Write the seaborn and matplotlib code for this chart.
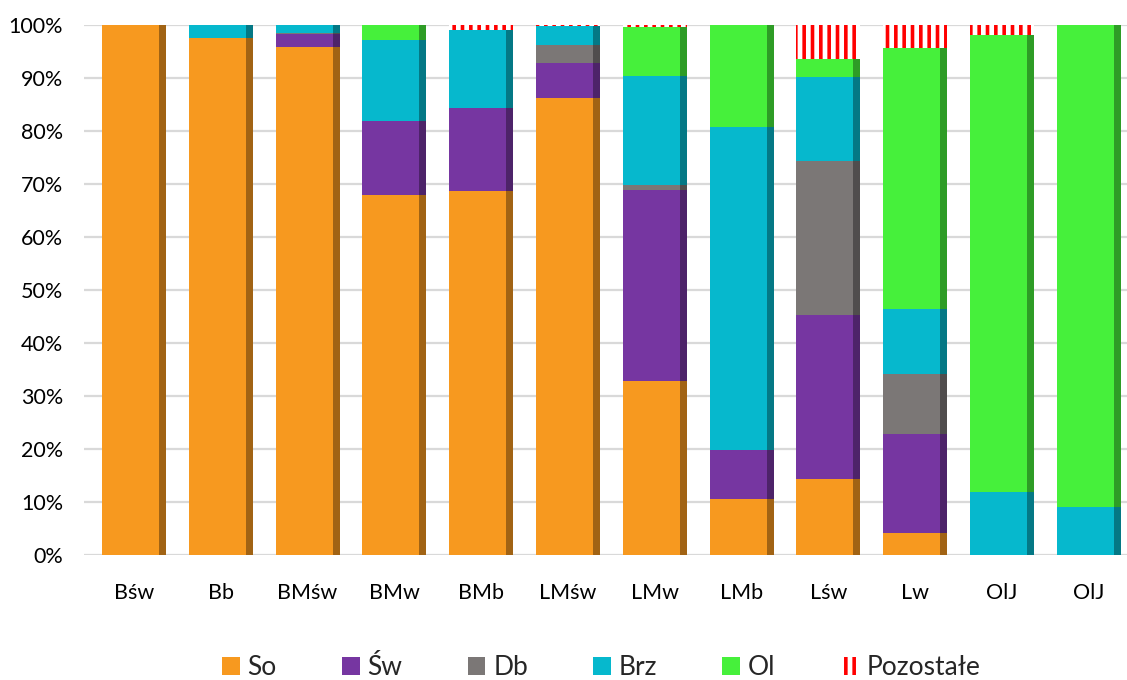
"""Stacked 100% bar chart of species share per stand type."""

import matplotlib
matplotlib.use("Agg")
import matplotlib.pyplot as plt
import matplotlib.colors as mcolors
from matplotlib.patches import Patch, Rectangle
from matplotlib.ticker import PercentFormatter
import seaborn as sns
import numpy as np

# Data (percent share)
categories = ["Bśw", "Bb", "BMśw", "BMw", "BMb", "LMśw", "LMw", "LMb", "Lśw", "Lw", "OlJ", "OlJ"]
so = [100, 97.5, 95.8, 67.9, 68.7, 86.2, 32.9, 10.6, 14.3, 4.2, 0, 0]
sw = [0, 0, 2.5, 14.0, 15.7, 6.6, 36.0, 9.2, 30.9, 18.7, 0, 0]
db = [0, 0, 0.2, 0, 0, 3.4, 0.9, 0, 29.1, 11.3, 0, 0]
brz = [0, 2.5, 1.5, 15.3, 14.7, 3.6, 20.6, 60.9, 15.8, 12.3, 11.9, 9.1]
ol = [0, 0, 0, 2.8, 0, 0, 9.3, 19.3, 3.4, 49.2, 86.2, 90.9]
poz = [0, 0, 0, 0, 0.9, 0.2, 0.3, 0, 6.4, 4.3, 1.9, 0]

series_names = ["So", "Św", "Db", "Brz", "Ol", "Pozostałe"]
series_values = [so, sw, db, brz, ol, poz]
series_colors = ["#F7991F", "#7636A1", "#7B7776", "#06B8CD", "#46F03B", "#FF0000"]

sns.set_style("white")
plt.rcParams["font.family"] = ["Lato", "DejaVu Sans"]
plt.rcParams["hatch.color"] = "#FF0000"
plt.rcParams["hatch.linewidth"] = 2.6

fig = plt.figure(figsize=(11.27, 6.8), dpi=100)
ax = fig.add_axes([84 / 1127, 125 / 680, 1043 / 1127, 530 / 680])

values = np.array(series_values, dtype=float)
values = values / values.sum(axis=0) * 100
positions = list(range(len(categories)))
bottom = np.zeros(len(categories))
bar_width = 0.737

for name, vals, color in zip(series_names, values, series_colors):
    n_before = len(ax.patches)
    if name == "Pozostałe":
        sns.barplot(x=positions, y=vals, bottom=bottom, color="white",
                    edgecolor=color, linewidth=0, hatch="||", saturation=1,
                    width=bar_width, errorbar=None, ax=ax)
    else:
        sns.barplot(x=positions, y=vals, bottom=bottom, color=color,
                    linewidth=0, saturation=1, width=bar_width, errorbar=None, ax=ax)
        # darker strip on the right side of each segment
        dark = tuple(c * 0.65 for c in mcolors.to_rgb(color))
        for p in ax.patches[n_before:]:
            w = p.get_width()
            sw_ = w * 0.11
            ax.add_patch(Rectangle((p.get_x() + w - sw_, p.get_y()), sw_, p.get_height(),
                                   facecolor=dark, linewidth=0, zorder=p.get_zorder()))
    bottom = bottom + vals

ax.set_xlim(-0.576, 11.44)
ax.set_ylim(0, 100)
ax.set_yticks(np.arange(0, 101, 10))
ax.yaxis.set_major_formatter(PercentFormatter(decimals=0))
ax.set_xticks(positions, labels=categories)
ax.yaxis.grid(True, color="#D9D9D9", linewidth=1.6)
ax.set_axisbelow(True)
for s in ax.spines.values():
    s.set_visible(False)
ax.tick_params(axis="both", length=0, labelsize=15.5, colors="black")
ax.tick_params(axis="x", pad=20)
ax.tick_params(axis="y", pad=15)
ax.set_xlabel("")
ax.set_ylabel("")

handles = []
for name, color in zip(series_names, series_colors):
    if name == "Pozostałe":
        handles.append(Patch(facecolor="white", edgecolor=color, linewidth=0, hatch="||", label=name))
    else:
        handles.append(Patch(facecolor=color, linewidth=0, label=name))
ax.legend(handles=handles, loc="center", bbox_to_anchor=(0.4957, -0.213), ncol=6,
          frameon=False, fontsize=19, handlelength=0.68, handleheight=0.68,
          handletextpad=0.3, columnspacing=2.46)

fig.savefig("out.png", dpi=100)
plt.close(fig)
